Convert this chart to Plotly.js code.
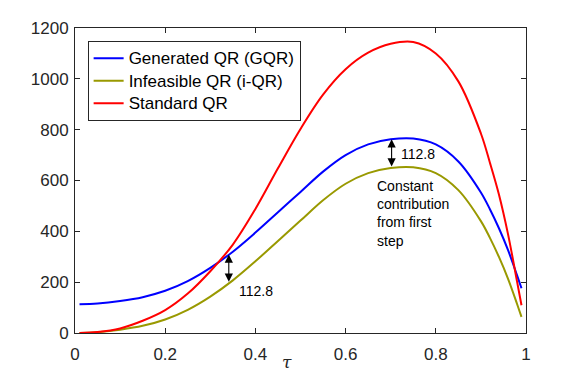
<!DOCTYPE html>
<html>
<head>
<meta charset="utf-8">
<script src="https://cdn.plot.ly/plotly-3.0.1.min.js"></script>
<style>
  html, body { margin: 0; padding: 0; background: #fff; }
  #chart { width: 581px; height: 374px; }
</style>
</head>
<body>
<div id="chart"></div>
<script>
// ---- data ----
const tau   = [0.01, 0.05, 0.10, 0.15, 0.20, 0.25, 0.30, 0.35, 0.40, 0.45, 0.50, 0.55, 0.60, 0.65, 0.70, 0.75, 0.80, 0.85, 0.90, 0.92, 0.94, 0.96, 0.98, 0.99];
const gqr   = [113, 116, 126, 141, 166, 204, 256, 320, 395, 475, 555, 635, 700, 742, 762, 765, 742, 675, 553, 487, 412, 327, 228, 176];
const iqr   = [0.2, 3.2, 13.2, 28.2, 53.2, 91.2, 143.2, 207.2, 282.2, 362.2, 442.2, 522.2, 587.2, 629.2, 649.2, 652.2, 629.2, 562.2, 440.2, 374.2, 299.2, 214.2, 115.2, 63.2];
const stdqr = [0, 4, 18, 48, 90, 155, 243, 348, 488, 648, 803, 938, 1038, 1103, 1138, 1145, 1100, 990, 785, 670, 545, 390, 204, 109];
const seriesNames = ['Generated QR (GQR)', 'Infeasible QR (i-QR)', 'Standard QR'];
const xTicks = [0, 0.2, 0.4, 0.6, 0.8, 1];
const yTicks = [0, 200, 400, 600, 800, 1000, 1200];
const gapTau = [0.341, 0.702];
const gapLabel = '112.8';
const noteText = 'Constant<br>contribution<br>from first<br>step';
const xTitle = '<i>τ</i>';

const AX = '#262626';
const FONT = 'Liberation Sans, Arial, Helvetica, sans-serif';

function interp(xs, ys, x) {
  for (let i = 0; i < xs.length - 1; i++) {
    if (x >= xs[i] && x <= xs[i + 1]) {
      const f = (x - xs[i]) / (xs[i + 1] - xs[i]);
      return ys[i] + f * (ys[i + 1] - ys[i]);
    }
  }
  return ys[ys.length - 1];
}

function mk(y, name, color) {
  return {
    x: tau, y: y, type: 'scatter', mode: 'lines',
    name: '<span style="font-size:17px">' + name + '</span>',
    line: { color: color, width: 2, shape: 'spline', smoothing: 1 }
  };
}
const traces = [
  mk(gqr, seriesNames[0], '#0000FF'),
  mk(iqr, seriesNames[1], '#999900'),
  mk(stdqr, seriesNames[2], '#FF0000')
];

const annotations = [];
gapTau.forEach(function (t) {
  annotations.push({
    x: t, y: interp(tau, gqr, t), ax: t, ay: interp(tau, iqr, t),
    xref: 'x', yref: 'y', axref: 'x', ayref: 'y',
    text: '', showarrow: true, arrowside: 'end+start',
    arrowhead: 2, arrowsize: 1.5, arrowwidth: 1.1, arrowcolor: '#000'
  });
});
annotations.push({ x: 0.360, y: 165, xref: 'x', yref: 'y', text: gapLabel, showarrow: false,
  xanchor: 'left', yanchor: 'middle', font: { family: FONT, size: 14, color: '#000' } });
annotations.push({ x: 0.719, y: 703, xref: 'x', yref: 'y', text: gapLabel, showarrow: false,
  xanchor: 'left', yanchor: 'middle', font: { family: FONT, size: 14, color: '#000' } });
annotations.push({ x: 0.665, y: 471, xref: 'x', yref: 'y', text: noteText, showarrow: false,
  xanchor: 'left', yanchor: 'middle', align: 'left', font: { family: FONT, size: 14, color: '#000' } });
annotations.push({ x: 0.471, y: -0.095, xref: 'paper', yref: 'paper', text: xTitle, showarrow: false,
  xanchor: 'center', yanchor: 'middle', font: { family: 'DejaVu Serif, serif', size: 17, color: AX } });

const layout = {
  width: 581, height: 374,
  margin: { l: 75, r: 55, t: 28, b: 41, pad: 0 },
  paper_bgcolor: '#fff', plot_bgcolor: '#fff',
  font: { family: FONT, size: 17, color: AX },
  showlegend: true,
  legend: {
    x: 0.028, y: 0.957, xanchor: 'left', yanchor: 'top',
    bgcolor: '#fff', bordercolor: AX, borderwidth: 1,
    font: { family: FONT, size: 15, color: '#000' },
    tracegroupgap: 0
  },
  xaxis: {
    range: [0, 1], tickvals: xTicks, ticktext: xTicks.map(String),
    ticks: 'inside', ticklen: 5, tickcolor: AX, tickwidth: 1,
    showline: true, linecolor: AX, linewidth: 1, mirror: 'ticks',
    showgrid: false, zeroline: false, automargin: false,
    ticklabelstandoff: 6,
    tickfont: { family: FONT, size: 17, color: AX }
  },
  yaxis: {
    range: [0, 1200], tickvals: yTicks, ticktext: yTicks.map(String),
    ticks: 'inside', ticklen: 5, tickcolor: AX, tickwidth: 1,
    showline: true, linecolor: AX, linewidth: 1, mirror: 'ticks',
    showgrid: false, zeroline: false, automargin: false,
    ticklabelstandoff: 2,
    tickfont: { family: FONT, size: 17, color: AX }
  },
  annotations: annotations
};

Plotly.newPlot('chart', traces, layout, { displayModeBar: false, staticPlot: true });
</script>
</body>
</html>
